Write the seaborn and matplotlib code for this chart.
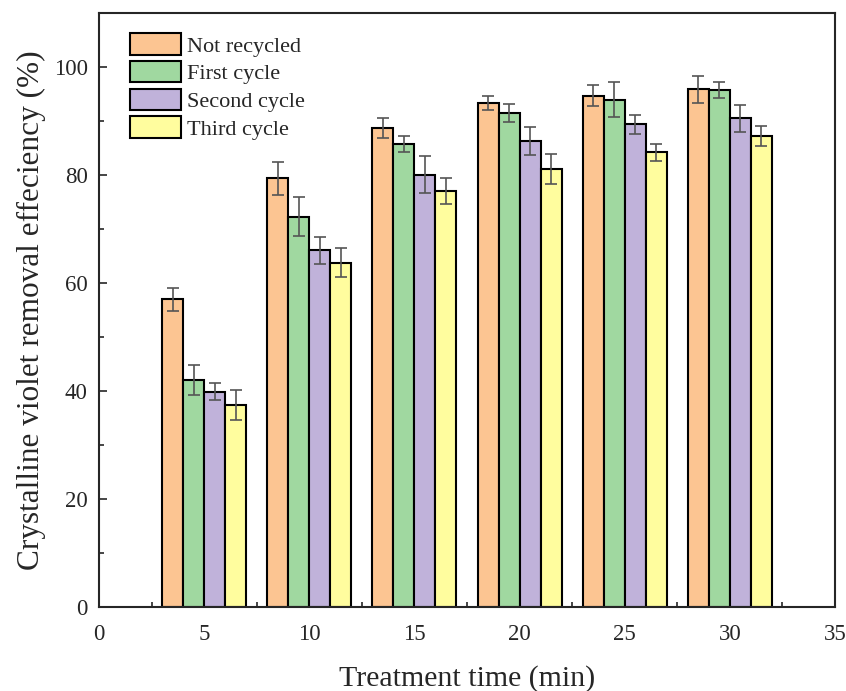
import pandas as pd
import numpy as np
import matplotlib.pyplot as plt
import seaborn as sns
from matplotlib.ticker import MultipleLocator

# treatment time and removal efficiency (%) for each recycle run
times = [5, 10, 15, 20, 25, 30]
series = ["Not recycled", "First cycle", "Second cycle", "Third cycle"]
not_recycled = [57.0, 79.4, 88.7, 93.4, 94.7, 95.9]
first_cycle = [42.1, 72.3, 85.7, 91.5, 94.0, 95.7]
second_cycle = [39.9, 66.1, 80.1, 86.3, 89.4, 90.5]
third_cycle = [37.4, 63.8, 77.0, 81.1, 84.2, 87.2]
err_not = [2.1, 3.0, 1.9, 1.3, 1.9, 2.5]
err_first = [2.8, 3.6, 1.5, 1.7, 3.2, 1.5]
err_second = [1.6, 2.5, 3.5, 2.6, 1.7, 2.5]
err_third = [2.7, 2.7, 2.4, 2.8, 1.5, 1.9]
colors = ["#FCC592", "#A0D8A0", "#C0B2DA", "#FFFD9E"]

vals = [not_recycled, first_cycle, second_cycle, third_cycle]
errs = [err_not, err_first, err_second, err_third]
rows = []
for s, v in zip(series, vals):
    for t, y in zip(times, v):
        rows.append({"time": t, "eff": y, "run": s})
df = pd.DataFrame(rows)

sns.set_style("ticks")
plt.rcParams['font.family'] = ['Liberation Serif', 'DejaVu Serif']
plt.rcParams['xtick.direction'] = 'in'
plt.rcParams['ytick.direction'] = 'in'

fig = plt.figure(figsize=(8.46, 6.91), dpi=100)
ax = fig.add_axes([0.117, 0.1216, 0.870, 0.8594])

sns.barplot(data=df, x="time", y="eff", hue="run", hue_order=series,
            palette=colors, native_scale=True, width=0.8, errorbar=None,
            edgecolor="black", linewidth=1.5, saturation=1, ax=ax)

# error bars on top of the bars
for cont, e in zip(ax.containers, errs):
    xs = [p.get_x() + p.get_width() / 2 for p in cont]
    hs = [p.get_height() for p in cont]
    ax.errorbar(xs, hs, yerr=e, fmt="none", ecolor="#555555",
                elinewidth=1.2, capsize=4, capthick=1.2, zorder=5)

ax.set_xlim(0, 35)
ax.set_ylim(0, 110)
ax.xaxis.set_major_locator(MultipleLocator(5))
ax.xaxis.set_minor_locator(MultipleLocator(2.5))
ax.yaxis.set_major_locator(MultipleLocator(20))
ax.yaxis.set_minor_locator(MultipleLocator(10))
ax.tick_params(which="major", direction="in", length=6, width=1.2, labelsize=16.5)
ax.tick_params(axis="x", which="major", pad=12)
ax.tick_params(axis="y", which="major", pad=8)
ax.tick_params(which="minor", direction="in", length=3.5, width=1.2)
for sp in ax.spines.values():
    sp.set_linewidth(1.5)
    sp.set_visible(True)

ax.set_xlabel("Treatment time (min)", fontsize=21.5, labelpad=15)
ax.set_ylabel("Crystalline violet removal effeciency (%)", fontsize=22.5, labelpad=6)

ax.legend(loc="upper left", frameon=False, fontsize=16,
          handlelength=2.3, handleheight=1.1, labelspacing=0.2,
          handletextpad=0.25, borderaxespad=0, borderpad=0.4,
          bbox_to_anchor=(0.030, 0.981))
for h in ax.get_legend().get_patches():
    h.set_edgecolor("black")
    h.set_linewidth(1.5)

plt.savefig("out.png", dpi=100)
